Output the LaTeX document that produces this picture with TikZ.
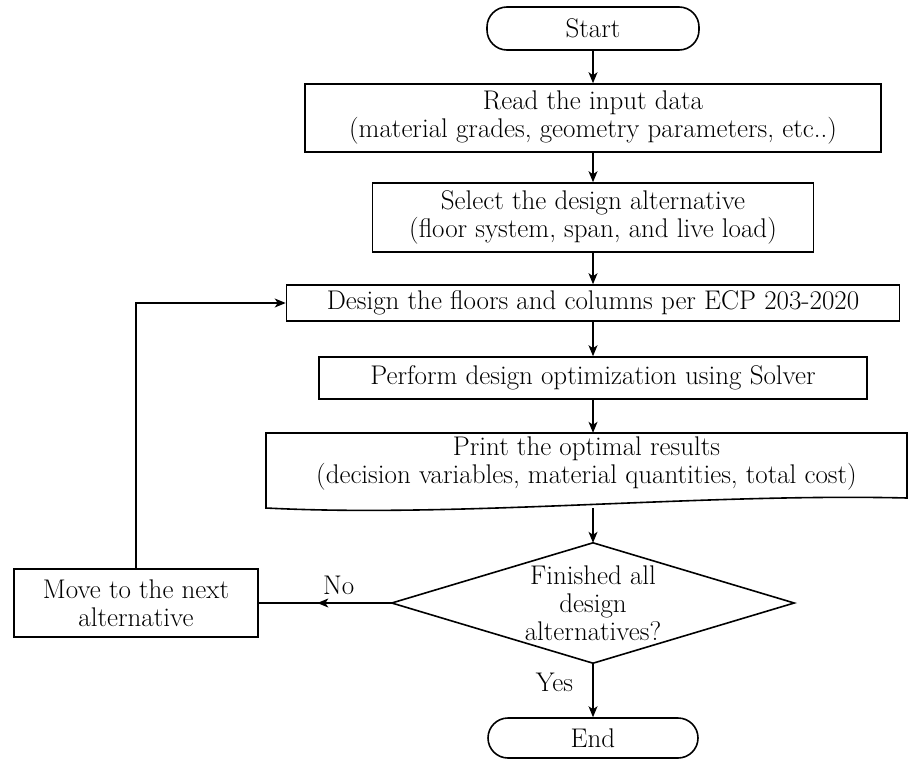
\documentclass[tikz,border=0pt]{standalone}
\usepackage{fontspec}
\usetikzlibrary{arrows.meta,decorations.markings}
\begin{document}
\begin{tikzpicture}[x=1pt, y=-1pt,
    font=\fontsize{27}{28}\selectfont\addfontfeatures{FakeStretch=1.22},
    box/.style = {draw, line width=1.6pt, align=center, inner sep=0pt},
    term/.style = {box, rounded corners=20pt},
    arr/.style = {line width=1.1pt, -{Stealth[length=11pt,width=9pt,inset=3pt]}},
    midarr/.style = {line width=1.1pt, postaction=decorate,
      decoration={markings, mark=at position 0.56 with {\arrow{Stealth[length=11pt,width=9pt,inset=3pt]}}}}]
    \useasboundingbox (0,0) rectangle (912,760);

    %% nodes
    \node[term, minimum width=212, minimum height=43] (start) at (593,28.5) {Start};
    \node[box, minimum width=576, minimum height=68] (read) at (593,118)
         {Read the input data\\(material grades, geometry parameters, etc..)};
    \node[box, minimum width=441, minimum height=69] (select) at (593,217.5)
         {Select the design alternative\\(floor system, span, and live load)};
    \node[box, minimum width=613, minimum height=36] (design) at (593,303)
         {Design the floors and columns per ECP 203-2020};
    \node[box, minimum width=548, minimum height=42] (perform) at (593,378)
         {Perform design optimization using Solver};
    \node[align=center, inner sep=0pt, minimum width=641, minimum height=60] (print) at (586.5,463)
         {Print the optimal results\\(decision variables, material quantities, total cost)};
    \node[align=center, inner sep=0pt, minimum width=402, minimum height=120] (dec) at (593,603)
         {Finished all\\design\\alternatives?};
    \node[term, minimum width=210, minimum height=40] (end) at (593,738) {End};
    \node[box, minimum width=244, minimum height=68] (move) at (136,603)
         {Move to the next\\alternative};

    %% document shape and decision
    \draw[line width=1.6pt] (266,433) -- (907,433) -- (907,498)
         .. controls (700,493) and (460,518) .. (266,508) -- cycle;
    \coordinate (print bottom) at (593,508);
    \draw[line width=1.6pt] (dec.north) -- (dec.east) -- (dec.south) -- (dec.west) -- cycle;

    %% connectors
    \draw[arr] (start) -- (read);
    \draw[arr] (read) -- (select);
    \draw[arr] (select) -- (design);
    \draw[arr] (design) -- (perform);
    \draw[arr] (perform) -- (perform |- print.north);
    \draw[arr] (print bottom) -- (dec.north);
    \draw[arr] (dec.south) -- node[left=16pt, pos=0.35] {Yes} (end);
    \draw[midarr] (dec.west) -- node[above=4pt, pos=0.4] {No} (move.east);
    \draw[arr] (move.north) |- (design.west);

\end{tikzpicture}
\end{document}
